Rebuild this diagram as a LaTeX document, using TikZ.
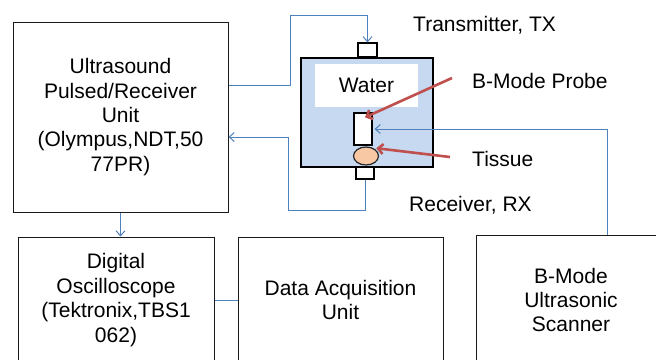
\documentclass[tikz,border=0pt]{standalone}
\usepackage{fontspec}
\setmainfont{Liberation Sans}
\usetikzlibrary{arrows.meta,calc,shapes.geometric}
\definecolor{linkblue}{HTML}{4F81BD}
\definecolor{tankblue}{HTML}{C6D9F1}
\definecolor{redarrow}{HTML}{C0504D}
\definecolor{tissuefill}{HTML}{F8C8A4}
\begin{document}
\begin{tikzpicture}[x=1pt,y=-1pt,
  font=\fontsize{21}{24.4}\selectfont,
  box/.style={draw=black!90, line width=1pt, align=center, inner sep=0pt},
  part/.style={draw=black, fill=white, line width=1.3pt, inner sep=0pt},
  lbl/.style={anchor=base west, inner sep=0pt},
  link/.style={draw=linkblue, line width=1pt},
  arr/.style={-{Straight Barb[length=5pt,width=9pt]}},
  redarr/.style={draw=redarrow, line width=2.6pt, -{Straight Barb[length=5pt,width=10pt]}}]
\clip (0,0) rectangle (656,359);
% main boxes
\node[box, minimum width=215pt, minimum height=190pt] (ultra) at (120.5,117)
  {Ultrasound\\Pulsed/Receiver\\Unit\\(Olympus,NDT,50\\77PR)};
\node[box, minimum width=196pt, minimum height=126pt] (dso) at (116,300)
  {Digital\\Oscilloscope\\(Tektronix,TBS1\\062)};
\node[box, minimum width=205pt, minimum height=126pt] (daq) at (340.5,300)
  {Data Acquisition\\Unit};
\node[box, minimum width=190pt, minimum height=130pt] (scan) at (571,300)
  {B-Mode\\Ultrasonic\\Scanner};
% tank
\node[draw=black, line width=2pt, fill=tankblue, minimum width=132pt, minimum height=109pt, inner sep=0pt] (tank) at (367,112.5) {};
\node[fill=white, minimum width=103pt, minimum height=43pt, inner sep=0pt] (water) at (366.5,85.5) {Water};
\node[part, minimum width=19pt, minimum height=14pt] (tx) at (367.5,50) {};
\node[part, minimum width=18pt, minimum height=12pt] (rx) at (365,173) {};
\node[part, minimum width=18pt, minimum height=32pt] (probe) at (363,129) {};
\node[draw=black!85, line width=1.2pt, ellipse, fill=tissuefill, minimum width=25pt, minimum height=18pt, inner sep=0pt] (tissue) at (366,156) {};
% labels
\node[lbl] (txl) at (413,31) {Transmitter, TX};
\node[lbl] (bml) at (472,88) {B-Mode Probe};
\node[lbl] (til) at (472,166) {Tissue};
\node[lbl] (rxl) at (409,211) {Receiver, RX};
% helper coordinates
\coordinate (y85) at (0,85);
\coordinate (y137) at (0,137);
\coordinate (x607) at (607,0);
\coordinate (r1) at (452,78);
\coordinate (r2) at (450,157);
% connectors
\draw[link, arr] (ultra.east |- y85) -| (290,15) -| (tx.north);
\draw[link, arr] (rx.south) |- (288,210) |- (ultra.east |- y137);
\draw[link, arr] (ultra.south) -- (ultra.south |- dso.north);
\draw[link] (dso.east) -- (daq.west);
\draw[link, arr] (scan.north -| x607) |- ([xshift=2pt]probe.east);
% red pointers
\draw[redarr] (r1) -- ([shift={(2,5)}]probe.north);
\draw[redarr] (r2) -- ([shift={(1,-1)}]tissue.north east);
\end{tikzpicture}
\end{document}
